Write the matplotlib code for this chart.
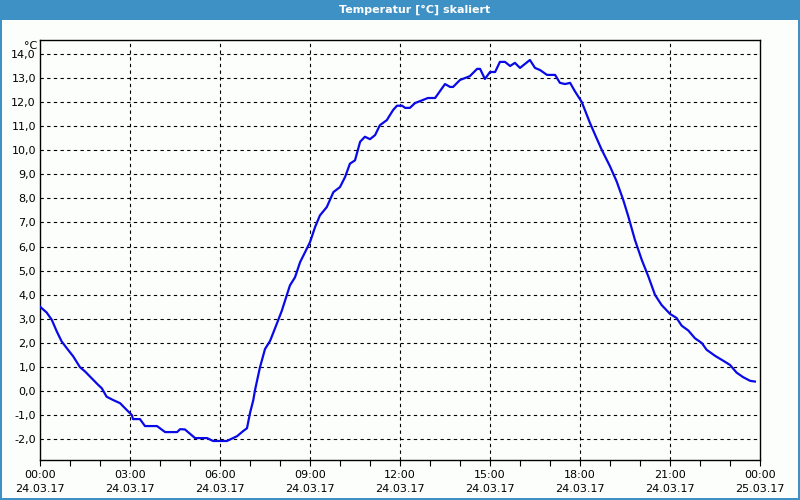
import matplotlib
matplotlib.use("Agg")
import matplotlib.pyplot as plt
from matplotlib.patches import Rectangle
from matplotlib.ticker import MultipleLocator, FixedLocator

title = "Temperatur [°C] skaliert"
unit = "°C"

hours = [0.00, 0.22, 0.39, 0.56, 0.72, 0.89, 1.11, 1.33, 1.50, 1.72, 1.94, 2.06, 2.22, 2.44,
         2.67, 2.89, 3.06, 3.10, 3.33, 3.50, 3.90, 4.17, 4.57, 4.67, 4.83, 5.17, 5.57, 5.77,
         6.23, 6.57, 6.77, 6.90, 7.00, 7.11, 7.17, 7.33, 7.50, 7.67, 7.89, 8.06, 8.33, 8.50,
         8.67, 8.89, 9.00, 9.17, 9.33, 9.56, 9.78, 10.00, 10.17, 10.33, 10.50, 10.67, 10.83,
         11.00, 11.17, 11.33, 11.56, 11.77, 11.90, 12.07, 12.17, 12.33, 12.50, 12.77, 12.93,
         13.17, 13.50, 13.67, 13.77, 14.00, 14.17, 14.33, 14.57, 14.67, 14.83, 15.00, 15.17,
         15.33, 15.50, 15.67, 15.83, 16.00, 16.33, 16.50, 16.67, 16.90, 17.17, 17.33, 17.50,
         17.67, 17.83, 18.06, 18.33, 18.50, 18.72, 19.00, 19.22, 19.44, 19.61, 19.83, 20.06,
         20.28, 20.50, 20.72, 21.00, 21.22, 21.39, 21.61, 21.83, 22.06, 22.22, 22.50, 22.78,
         23.00, 23.22, 23.44, 23.67, 23.83]
temps = [3.50, 3.26, 2.96, 2.47, 2.06, 1.78, 1.43, 0.99, 0.81, 0.53, 0.25, 0.11, -0.24, -0.38,
         -0.51, -0.79, -1.00, -1.17, -1.17, -1.46, -1.46, -1.71, -1.71, -1.59, -1.60, -1.96, -1.96, -2.08,
         -2.08, -1.88, -1.67, -1.55, -0.92, -0.38, 0.05, 0.97, 1.74, 2.08, 2.78, 3.33, 4.38, 4.72,
         5.35, 5.90, 6.18, 6.81, 7.29, 7.64, 8.26, 8.47, 8.89, 9.44, 9.58, 10.35, 10.56,
         10.46, 10.63, 11.04, 11.25, 11.67, 11.85, 11.85, 11.76, 11.76, 11.96, 12.09, 12.17,
         12.17, 12.75, 12.63, 12.63, 12.92, 13.00, 13.08, 13.38, 13.38, 12.96, 13.25, 13.25,
         13.67, 13.67, 13.50, 13.63, 13.42, 13.75, 13.42, 13.33, 13.13, 13.13, 12.80, 12.75,
         12.80, 12.45, 12.00, 11.14, 10.65, 10.03, 9.33, 8.71, 7.94, 7.25, 6.28, 5.44,
         4.75, 3.99, 3.57, 3.20, 3.03, 2.71, 2.51, 2.19, 1.99, 1.71, 1.46, 1.25,
         1.08, 0.76, 0.57, 0.42, 0.39]

xtick_hours = [0, 3, 6, 9, 12, 15, 18, 21, 24]
xtick_labels = ["00:00\n24.03.17", "03:00\n24.03.17", "06:00\n24.03.17", "09:00\n24.03.17",
                "12:00\n24.03.17", "15:00\n24.03.17", "18:00\n24.03.17", "21:00\n24.03.17",
                "00:00\n25.03.17"]
ytick_vals = list(range(-2, 15))

BG = "#fcfefc"
BLUE_FRAME = "#3d91c4"

plt.rcParams['font.family'] = ['DejaVu Sans']
fig = plt.figure(figsize=(8, 5), dpi=100, facecolor=BG)

# window frame
fig.patches.append(Rectangle((0, 1 - 20 / 500), 1, 20 / 500, transform=fig.transFigure,
                             facecolor=BLUE_FRAME, edgecolor='none', zorder=0))
fig.patches.append(Rectangle((0, 0), 2 / 800, 1, transform=fig.transFigure,
                             facecolor=BLUE_FRAME, edgecolor='none', zorder=0))
fig.patches.append(Rectangle((1 - 2 / 800, 0), 2 / 800, 1, transform=fig.transFigure,
                             facecolor=BLUE_FRAME, edgecolor='none', zorder=0))
fig.patches.append(Rectangle((0, 0), 1, 2 / 500, transform=fig.transFigure,
                             facecolor=BLUE_FRAME, edgecolor='none', zorder=0))
fig.text(415 / 800, 1 - 10 / 500, title, color='white', fontsize=8, fontweight='bold',
         ha='center', va='center')

ax = fig.add_axes([40 / 800, 40 / 500, 720 / 800, 420 / 500])
ax.set_facecolor(BG)
ax.plot(hours, temps, color='#0a0ae6', lw=1.6, zorder=3)

ax.set_xlim(0, 24)
ax.set_ylim(-2.87, 14.58)
ax.xaxis.set_major_locator(FixedLocator(xtick_hours))
ax.set_xticklabels(xtick_labels, fontsize=8, linespacing=1.5)
ax.xaxis.set_minor_locator(MultipleLocator(1))
ax.set_yticks(ytick_vals)
ax.set_yticklabels([f"{v:.1f}".replace('.', ',') for v in ytick_vals], fontsize=8)

ax.tick_params(axis='x', which='both', direction='out', length=4, width=0.8, pad=3.5, colors='black')
ax.tick_params(axis='y', which='both', length=0, pad=3)

for v in ytick_vals:
    ax.axhline(v, color='black', lw=0.8, ls=(0, (3, 3)), zorder=1)
for h in xtick_hours[1:-1]:
    ax.axvline(h, color='black', lw=0.8, ls=(0, (3, 3)), zorder=1)

for s in ax.spines.values():
    s.set_linewidth(1.0)
    s.set_color('black')

fig.text(37 / 800, 1 - 46 / 500, unit, fontsize=8, ha='right', va='center')

fig.savefig("out.png", dpi=100, facecolor=BG)
